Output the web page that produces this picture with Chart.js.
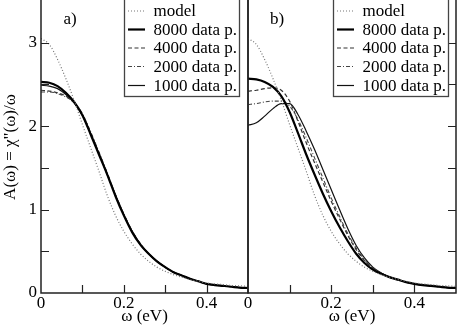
<!DOCTYPE html>
<html><head><meta charset="utf-8">
<script src="https://cdn.jsdelivr.net/npm/chart.js@4/dist/chart.umd.min.js"></script>
<style>
html,body{margin:0;padding:0;background:#fff;}
#wrap{position:relative;width:457px;height:327px;overflow:hidden;background:#fff;}
canvas{position:absolute;top:0;}
#fl{font-family:"Liberation Serif";position:absolute;left:-999px;top:0;font-size:17px;}
</style></head>
<body><div id="fl">ω model 0.2</div><div id="wrap"><canvas id="ca"></canvas><canvas id="cb"></canvas></div>
<script>
// ---- data ----
const omega = [0,0.02,0.04,0.06,0.08,0.10,0.12,0.14,0.16,0.18,0.20,0.22,0.24,0.26,0.28,0.30,0.32,0.34,0.36,0.38,0.40,0.42,0.44,0.46,0.48,0.50];
const modelA = [3.05,2.98,2.80,2.57,2.31,2.02,1.74,1.46,1.17,0.93,0.74,0.59,0.47,0.38,0.31,0.26,0.22,0.19,0.16,0.14,0.12,0.11,0.10,0.09,0.085,0.08];
const a8000 = [2.53,2.52,2.48,2.40,2.29,2.13,1.90,1.66,1.42,1.16,0.93,0.73,0.58,0.47,0.38,0.31,0.25,0.21,0.17,0.14,0.11,0.095,0.085,0.075,0.065,0.06];
const a4000 = [2.43,2.42,2.40,2.36,2.28,2.14,1.92,1.68,1.43,1.17,0.94,0.74,0.59,0.47,0.38,0.31,0.25,0.21,0.17,0.14,0.11,0.095,0.085,0.075,0.065,0.06];
const a2000 = [2.41,2.41,2.39,2.35,2.28,2.15,1.93,1.69,1.44,1.18,0.95,0.75,0.59,0.47,0.38,0.31,0.25,0.21,0.17,0.14,0.11,0.095,0.085,0.075,0.065,0.06];
const a1000 = [2.49,2.48,2.45,2.38,2.28,2.13,1.91,1.67,1.42,1.17,0.94,0.74,0.58,0.47,0.38,0.31,0.25,0.21,0.17,0.14,0.11,0.095,0.085,0.075,0.065,0.06];
const b8000 = [2.57,2.56,2.53,2.47,2.36,2.17,1.92,1.66,1.42,1.19,0.98,0.79,0.62,0.47,0.36,0.28,0.23,0.19,0.16,0.13,0.11,0.095,0.085,0.075,0.065,0.06];
const b4000 = [2.42,2.43,2.45,2.46,2.43,2.30,2.06,1.80,1.56,1.33,1.10,0.89,0.69,0.52,0.39,0.30,0.24,0.19,0.16,0.13,0.11,0.095,0.085,0.075,0.065,0.06];
const b2000 = [2.26,2.27,2.29,2.30,2.30,2.24,2.08,1.86,1.62,1.38,1.14,0.92,0.71,0.54,0.40,0.30,0.24,0.19,0.16,0.13,0.11,0.095,0.085,0.075,0.065,0.06];
const b1000 = [2.01,2.04,2.12,2.21,2.27,2.27,2.14,1.94,1.72,1.48,1.24,1.00,0.77,0.57,0.42,0.31,0.24,0.19,0.16,0.13,0.11,0.095,0.085,0.075,0.065,0.06];
const seriesLabels = ['model','8000 data p.','4000 data p.','2000 data p.','1000 data p.'];
const xTickLabels = [0,0.2,0.4];
const yTickLabels = [0,1,2,3];
const xMinorTicks = [0.1,0.2,0.3,0.4];
const yMinorTicks = [0.5,1,1.5,2,2.5,3];
const panelNames = ['a)','b)'];
const yTitle = 'A(\u03C9) = \u03C7"(\u03C9)/\u03C9';
const xTitle = '\u03C9 (eV)';

const FONT = '"Liberation Serif", "Times New Roman", serif';
const styles = [
  {borderColor:'#777', borderWidth:1.2, borderDash:[1,2]},
  {borderColor:'#000', borderWidth:2.2, borderDash:[]},
  {borderColor:'#333', borderWidth:1.2, borderDash:[4,2.5]},
  {borderColor:'#444', borderWidth:1.1, borderDash:[4,2,1,2]},
  {borderColor:'#111', borderWidth:1.2, borderDash:[]}
];
function mk(vals){ return omega.map((w,i)=>({x:w,y:vals[i]})); }
function datasets(arrs){
  return arrs.map((a,i)=>Object.assign({label:seriesLabels[i],data:mk(a),pointRadius:0,fill:false,cubicInterpolationMode:'monotone'},styles[i]));
}

const framePlugin = {
  id:'frame',
  afterDatasetsDraw(chart, args, o){
    const ctx = chart.ctx; const {left,right,top,bottom} = chart.chartArea;
    const x = chart.scales.x, y = chart.scales.y;
    ctx.save();
    ctx.strokeStyle='#222'; ctx.lineWidth=1.5; ctx.setLineDash([]);
    ctx.beginPath(); ctx.moveTo(left,top-5); ctx.lineTo(left,bottom); ctx.lineTo(right,bottom); ctx.lineTo(right,top-5); ctx.stroke();
    ctx.lineWidth=1.2;
    ctx.beginPath();
    xMinorTicks.forEach(v=>{const p=Math.round(x.getPixelForValue(v))+0.5; ctx.moveTo(p,bottom); ctx.lineTo(p,bottom-8);});
    yMinorTicks.forEach(v=>{const p=Math.round(y.getPixelForValue(v))+0.5;
      if(o.leftTicks){ctx.moveTo(left,p); ctx.lineTo(left+8,p);}
      if(o.rightTicks){ctx.moveTo(right,p); ctx.lineTo(right-8,p);} });
    ctx.stroke();
    // legend box
    const bx = left + o.boxOff, bw = 115, by = -2, bh = 100;
    ctx.fillStyle='#fff'; ctx.fillRect(bx,by,bw,bh);
    ctx.strokeStyle='#444'; ctx.lineWidth=1.3; ctx.strokeRect(bx+0.5,by+0.5,bw,bh-2);
    ctx.font = '17px '+FONT; ctx.fillStyle='#000'; ctx.textBaseline='middle'; ctx.textAlign='left';
    const rows=[11,29.5,48,66.5,85.5];
    chart.data.datasets.forEach((ds,i)=>{
      ctx.strokeStyle=ds.borderColor; ctx.lineWidth=ds.borderWidth; ctx.setLineDash(ds.borderDash);
      ctx.beginPath(); ctx.moveTo(bx+4,rows[i]); ctx.lineTo(bx+21,rows[i]); ctx.stroke();
      ctx.setLineDash([]);
      ctx.fillText(ds.label, bx+29.5, rows[i]+1);
    });
    ctx.textAlign='center';
    ctx.fillText(o.name, left+29, 20);
    ctx.restore();
  }
};

function makeChart(id, arrs, isA){
  const cv = document.getElementById(id);
  const W = isA?250:221;
  cv.width=W; cv.height=327; cv.style.width=W+'px'; cv.style.height='327px';
  cv.style.left = isA?'0px':'236px';
  return new Chart(cv,{
    type:'line',
    data:{datasets:datasets(arrs)},
    options:{
      responsive:false, animation:false, devicePixelRatio:1,
      layout:{padding:{left:isA?0:12,right:isA?2:1,top:1,bottom:0}},
      plugins:{legend:{display:false},tooltip:{enabled:false},
        frame:{leftTicks:isA,rightTicks:!isA,boxOff:isA?83:85,name:isA?panelNames[0]:panelNames[1]}},
      scales:{
        x:{type:'linear',min:0,max:0.5,
          afterBuildTicks:s=>{s.ticks=xTickLabels.map(v=>({value:v}));},
          afterFit:s=>{s.height=34; s.paddingLeft=0; s.paddingRight=0;},
          grid:{display:false,drawTicks:false},border:{display:false},
          ticks:{padding:0,color:'#000',font:{family:FONT,size:17},callback:v=>String(v)},
          title:{display:true,text:xTitle,color:'#000',font:{family:FONT,size:17},padding:{top:0,bottom:0}}},
        y:{type:'linear',min:0,max:3.5,display:isA,
          afterBuildTicks:s=>{s.ticks=yTickLabels.map(v=>({value:v}));},
          afterFit:s=>{s.width=isA?41:0; s.paddingTop=0; s.paddingBottom=0;},
          grid:{display:false,drawTicks:false},border:{display:false},
          ticks:{padding:4,color:'#000',font:{family:FONT,size:17},callback:v=>String(v)},
          title:{display:true,text:yTitle,color:'#000',font:{family:FONT,size:17},padding:{top:0,bottom:0}}}
      }
    },
    plugins:[framePlugin]
  });
}
function go(){
  makeChart('ca',[modelA,a8000,a4000,a2000,a1000],true);
  makeChart('cb',[modelA,b8000,b4000,b2000,b1000],false);
}
if (document.fonts && document.fonts.load) {
  Promise.all([document.fonts.load('17px "Liberation Serif"','ω0.2 model'),document.fonts.ready]).then(go, go);
} else go();
</script></body></html>
